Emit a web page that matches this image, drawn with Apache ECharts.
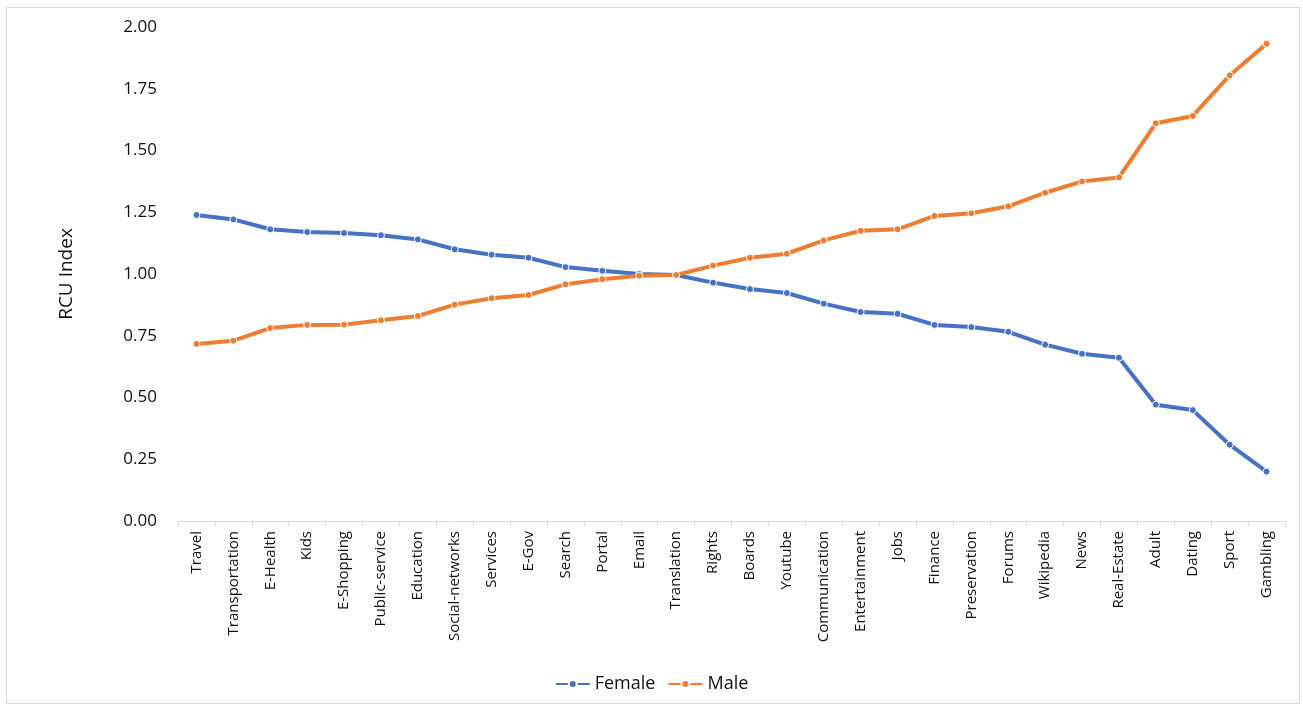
<!DOCTYPE html>
<html>
<head>
<meta charset="utf-8">
<script src="https://cdn.jsdelivr.net/npm/echarts@6/dist/echarts.min.js"></script>
<style>
  html, body { margin: 0; padding: 0; background: #fff; }
  #frame { position: absolute; left: 6px; top: 7px; width: 1294px; height: 697px; border: 1px solid #d9d9d9; box-sizing: border-box; }
  #chart { position: absolute; left: 0; top: 0; width: 1303px; height: 706px; }
</style>
</head>
<body>
<div id="frame"></div>
<div id="chart"></div>
<script>
// categories along x
var categories = ['Travel', 'Transportation', 'E-Health', 'Kids', 'E-Shopping', 'Public-service',
  'Education', 'Social-networks', 'Services', 'E-Gov', 'Search', 'Portal', 'Email', 'Translation',
  'Rights', 'Boards', 'Youtube', 'Communication', 'Entertainment', 'Jobs', 'Finance', 'Preservation',
  'Forums', 'Wikipedia', 'News', 'Real-Estate', 'Adult', 'Dating', 'Sport', 'Gambling'];

// RCU index per gender
var female = [1.239, 1.221, 1.181, 1.170, 1.166, 1.157, 1.140, 1.100, 1.078, 1.066, 1.028, 1.013,
  1.000, 0.996, 0.965, 0.939, 0.923, 0.880, 0.846, 0.839, 0.794, 0.785, 0.766, 0.714, 0.677,
  0.661, 0.471, 0.449, 0.309, 0.200];
var male = [0.717, 0.730, 0.781, 0.794, 0.795, 0.813, 0.830, 0.876, 0.902, 0.915, 0.958, 0.979,
  0.993, 0.996, 1.034, 1.066, 1.082, 1.136, 1.175, 1.181, 1.235, 1.246, 1.274, 1.329, 1.375,
  1.391, 1.610, 1.640, 1.804, 1.932];

var yTicks = { min: 0, max: 2, interval: 0.25 };

var chart = echarts.init(document.getElementById('chart'), null, { renderer: 'canvas' });
var font = 'Open Sans, sans-serif';

function lineSeries(name, data, color) {
  return {
    name: name,
    type: 'line',
    data: data,
    symbol: 'circle',
    symbolSize: 7,
    lineStyle: { width: 4, color: color },
    itemStyle: { color: color, borderColor: '#fff', borderWidth: 1 },
    emphasis: { disabled: true },
    z: name === 'Male' ? 3 : 2
  };
}

var option = {
  animation: false,
  color: ['#4472C4', '#ED7D31'],
  textStyle: { fontFamily: font },
  grid: { left: 178, right: 18, top: 27, bottom: 185, containLabel: false },
  legend: {
    bottom: 8,
    left: 'center',
    itemWidth: 34,
    itemHeight: 10,
    itemGap: 12,
    textStyle: { fontSize: 18, color: '#111', fontFamily: font },
    data: ['Female', 'Male']
  },
  xAxis: {
    type: 'category',
    data: categories,
    boundaryGap: true,
    axisLine: { lineStyle: { color: '#d9d9d9', width: 1 } },
    axisTick: { show: true, length: 6, lineStyle: { color: '#d9d9d9' } },
    axisLabel: { rotate: 90, interval: 0, fontSize: 15, color: '#111', margin: 10, fontFamily: font }
  },
  yAxis: {
    type: 'value',
    min: yTicks.min,
    max: yTicks.max,
    interval: yTicks.interval,
    name: 'RCU Index',
    nameLocation: 'middle',
    nameGap: 102,
    nameRotate: 90,
    nameTextStyle: { fontSize: 19, color: '#111', fontFamily: font },
    axisLine: { show: false },
    axisTick: { show: false },
    splitLine: { show: false },
    axisLabel: {
      fontSize: 17, color: '#111', margin: 21, fontFamily: font,
      formatter: function (v) { return v.toFixed(2); }
    }
  },
  series: [
    lineSeries('Female', female, '#4472C4'),
    lineSeries('Male', male, '#ED7D31')
  ]
};

chart.setOption(option);
</script>
</body>
</html>
